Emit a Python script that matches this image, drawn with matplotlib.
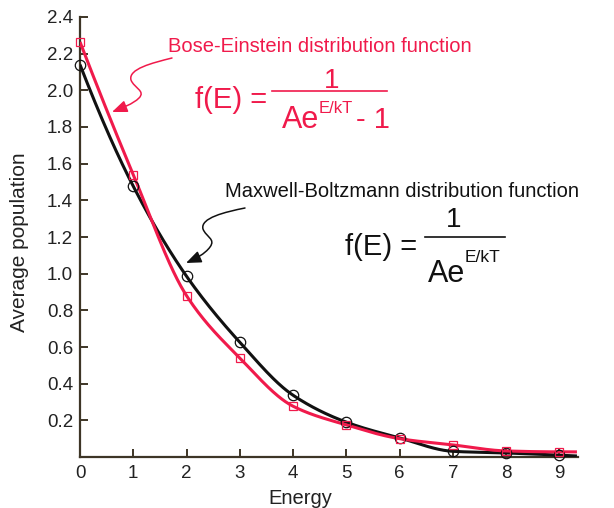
import numpy as np
import matplotlib
matplotlib.use("Agg")
import matplotlib.pyplot as plt
from matplotlib.path import Path
from matplotlib.patches import FancyArrowPatch
from matplotlib.lines import Line2D

# ---- data ----
energy = [0, 1, 2, 3, 4, 5, 6, 7, 8, 9]
maxwell_boltzmann = [2.14, 1.477, 0.986, 0.626, 0.337, 0.19, 0.104, 0.031, 0.022, 0.01]
bose_einstein = [2.264, 1.54, 0.88, 0.54, 0.277, 0.175, 0.10, 0.066, 0.033, 0.028]
x_ticks = [0, 1, 2, 3, 4, 5, 6, 7, 8, 9]
y_ticks = [0.2, 0.4, 0.6, 0.8, 1.0, 1.2, 1.4, 1.6, 1.8, 2.0, 2.2, 2.4]

RED = "#f01a4b"
BLACK = "#111111"
SPINE = "#3d3526"
W, H = 614, 508

plt.rcParams['font.family'] = ['Liberation Sans', 'DejaVu Sans']


def pchip(x, y, xs):
    x = np.asarray(x, float)
    y = np.asarray(y, float)
    n = len(x)
    h = np.diff(x)
    delta = np.diff(y) / h
    d = np.zeros(n)
    for k in range(1, n - 1):
        if delta[k - 1] * delta[k] <= 0:
            d[k] = 0.0
        else:
            w1 = 2 * h[k] + h[k - 1]
            w2 = h[k] + 2 * h[k - 1]
            d[k] = (w1 + w2) / (w1 / delta[k - 1] + w2 / delta[k])

    def end(h0, h1, d0, d1):
        v = ((2 * h0 + h1) * d0 - h0 * d1) / (h0 + h1)
        if np.sign(v) != np.sign(d0):
            v = 0.0
        elif np.sign(d0) != np.sign(d1) and abs(v) > abs(3 * d0):
            v = 3 * d0
        return v

    d[0] = end(h[0], h[1], delta[0], delta[1])
    d[-1] = end(h[-1], h[-2], delta[-1], delta[-2])
    out = np.empty_like(xs, dtype=float)
    for i, xv in enumerate(xs):
        if xv >= x[-1]:
            out[i] = y[-1] + d[-1] * (xv - x[-1])
            continue
        k = min(np.searchsorted(x, xv, side='right') - 1, n - 2)
        k = max(k, 0)
        t = (xv - x[k]) / h[k]
        h00 = 2 * t**3 - 3 * t**2 + 1
        h10 = t**3 - 2 * t**2 + t
        h01 = -2 * t**3 + 3 * t**2
        h11 = t**3 - t**2
        out[i] = h00 * y[k] + h10 * h[k] * d[k] + h01 * y[k + 1] + h11 * h[k] * d[k + 1]
    return out


fig = plt.figure(figsize=(W / 100, H / 100), dpi=100)
ax = fig.add_axes([80 / W, (H - 457) / H, (578 - 80) / W, (457 - 17) / H])

xs = np.linspace(0, 9.33, 400)
ax.plot(xs, pchip(energy, maxwell_boltzmann, xs), color=BLACK, lw=2.2, zorder=3, solid_capstyle='butt')
ax.plot(xs, pchip(energy, bose_einstein, xs), color=RED, lw=2.2, zorder=4, solid_capstyle='butt')
ax.plot(energy, maxwell_boltzmann, linestyle='none', marker='o', ms=7.5, mfc='none',
        mec=BLACK, mew=0.9, zorder=5, clip_on=False)
ax.plot(energy, bose_einstein, linestyle='none', marker='s', ms=5.6, mfc='none',
        mec=RED, mew=0.9, zorder=6, clip_on=False)

ax.set_xlim(0, 9.35)
ax.set_ylim(0, 2.4)
ax.set_xticks(x_ticks)
ax.set_yticks(y_ticks)
ax.set_xticklabels([str(v) for v in x_ticks])
ax.set_yticklabels([f"{v:.1f}" for v in y_ticks])
for s in ['top', 'right']:
    ax.spines[s].set_visible(False)
for s in ['left', 'bottom']:
    ax.spines[s].set_color(SPINE)
    ax.spines[s].set_linewidth(1.6)
ax.tick_params(direction='in', length=5.5, width=1.4, color=SPINE,
               labelsize=13.5, labelcolor='#222222')
ax.tick_params(axis='x', pad=6)
ax.tick_params(axis='y', pad=5)
ax.set_xlabel("Energy", fontsize=14.5, color='#222222')
ax.set_ylabel("Average population", fontsize=15, color='#222222')
ax.xaxis.set_label_coords((300 - 80) / (578 - 80), -(498 - 457) / (457 - 17), transform=ax.transAxes)
ax.xaxis.label.set_va('center')
ax.yaxis.set_label_coords(-(80 - 20) / (578 - 80), (457 - 242) / (457 - 17))
ax.yaxis.label.set_va('center')


def P(x, y):
    return (x / W, 1 - y / H)


def ftext(x, y, s, **kw):
    fig.text(*P(x, y), s, **kw)


# Bose-Einstein annotation
ftext(168, 52, "Bose-Einstein distribution function", color=RED, fontsize=14.5,
      ha='left', va='baseline')
ftext(195, 107.5, "f(E) =", color=RED, fontsize=21, ha='left', va='baseline')
ftext(332, 88, "1", color=RED, fontsize=20, ha='center', va='baseline')
fig.add_artist(Line2D([P(272, 91)[0], P(387, 91)[0]], [P(272, 91)[1]] * 2,
                      color=RED, lw=1.2, transform=fig.transFigure))
ftext(319, 127.5, "Ae", color=RED, fontsize=22, ha='right', va='baseline')
ftext(319, 113, "E/kT", color=RED, fontsize=12, ha='left', va='baseline')
ftext(356, 127.5, "- 1", color=RED, fontsize=21, ha='left', va='baseline')

# Maxwell-Boltzmann annotation
ftext(225, 197, "Maxwell-Boltzmann distribution function", color=BLACK, fontsize=14.5,
      ha='left', va='baseline')
ftext(345, 255, "f(E) =", color=BLACK, fontsize=21, ha='left', va='baseline')
ftext(454, 227, "1", color=BLACK, fontsize=20, ha='center', va='baseline')
fig.add_artist(Line2D([P(425, 237)[0], P(505, 237)[0]], [P(425, 237)[1]] * 2,
                      color=BLACK, lw=1.2, transform=fig.transFigure))
ftext(465, 281.5, "Ae", color=BLACK, fontsize=22, ha='right', va='baseline')
ftext(465, 262, "E/kT", color=BLACK, fontsize=12.5, ha='left', va='baseline')


def squiggle(pts, color):
    verts = [P(*p) for p in pts]
    codes = [Path.MOVETO] + [Path.CURVE4] * (len(pts) - 1)
    arr = FancyArrowPatch(path=Path(verts, codes), arrowstyle='-|>,head_length=0.7,head_width=0.28',
                          mutation_scale=13, color=color, lw=1.1, transform=fig.transFigure,
                          shrinkA=0, shrinkB=0)
    fig.add_artist(arr)


squiggle([(172, 58), (152, 63), (128, 69), (131, 80),
          (134, 88), (146, 91), (139, 98),
          (133, 104), (122, 108), (112, 112)], RED)
squiggle([(245, 208), (225, 212), (200, 218), (203, 229),
          (206, 237), (216, 239), (210, 247),
          (205, 254), (195, 259), (186, 263)], BLACK)

fig.savefig("out.png", dpi=100)
